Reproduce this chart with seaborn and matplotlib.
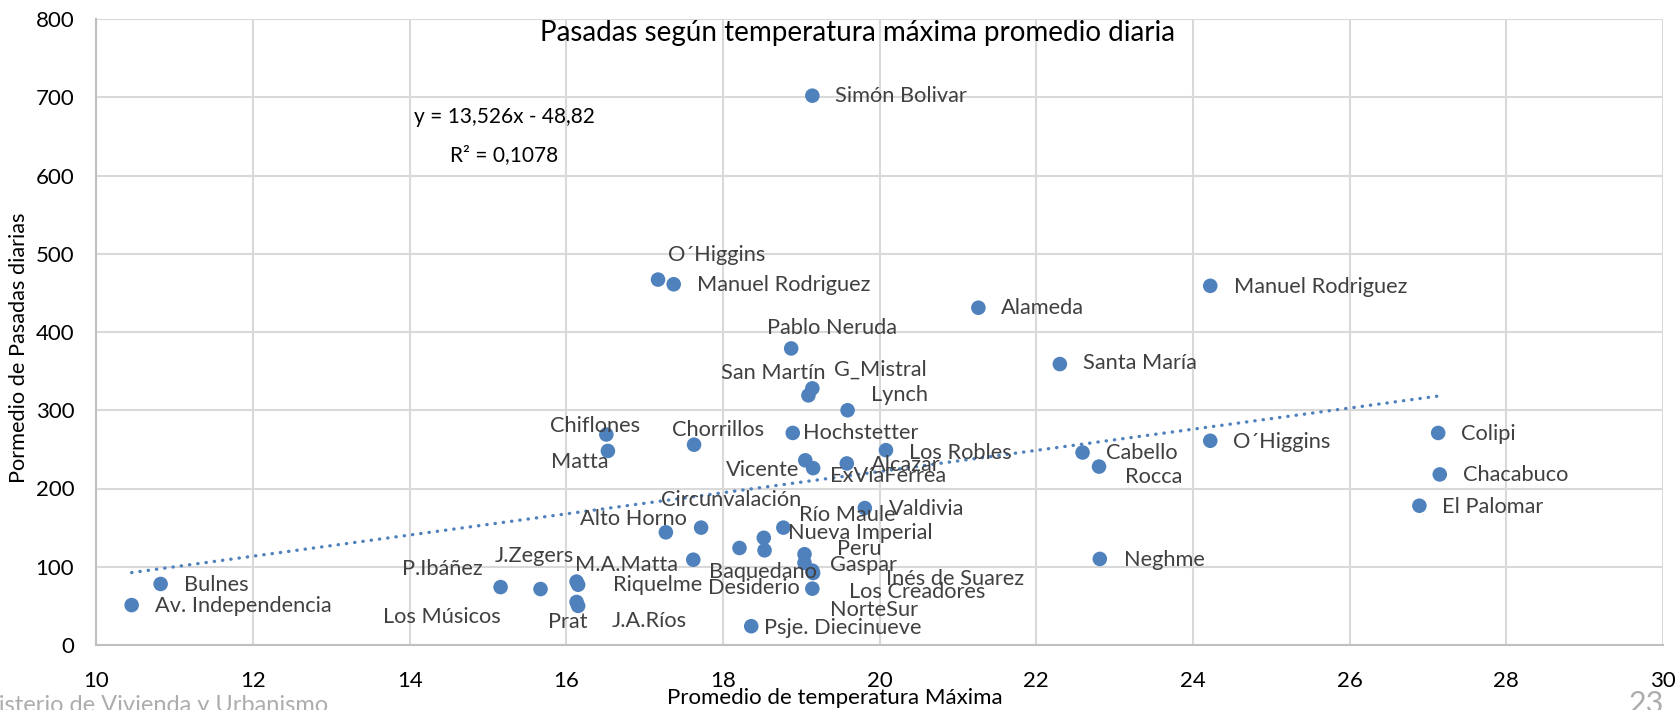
import matplotlib
matplotlib.use("Agg")
import matplotlib.pyplot as plt
import seaborn as sns
import pandas as pd
import numpy as np

# ---------------- data ----------------
names = [
    "Simón Bolivar", "O´Higgins", "Manuel Rodriguez", "Alameda", "Manuel Rodriguez",
    "Pablo Neruda", "Santa María", "G_Mistral", "San Martín", "Lynch",
    "Chiflones", "Matta", "Chorrillos", "Hochstetter", "Los Robles",
    "Alcazar", "Vicente", "ExVíaFerrea", "Cabello", "Rocca",
    "O´Higgins", "Colipi", "Chacabuco", "El Palomar", "Valdivia",
    "Circunvalación", "Alto Horno", "Río Maule", "Nueva Imperial", "Baquedano",
    "Desiderio", "Peru", "Gaspar", "Inés de Suarez", "Los Creadores",
    "NorteSur", "Psje. Diecinueve", "Neghme", "M.A.Matta", "P.Ibáñez",
    "Los Músicos", "J.Zegers", "Riquelme", "Prat", "J.A.Ríos",
    "Bulnes", "Av. Independencia",
]
temp_max = [
    19.14, 17.17, 17.37, 21.26, 24.22,
    18.87, 22.30, 19.14, 19.09, 19.59,
    16.51, 16.53, 17.63, 18.89, 20.08,
    19.58, 19.05, 19.15, 22.59, 22.80,
    24.22, 27.13, 27.15, 26.89, 19.81,
    17.72, 17.27, 18.77, 18.52, 18.21,
    18.53, 19.04, 19.04, 19.14, 19.15,
    19.14, 18.36, 22.81, 17.62, 15.16,
    15.67, 16.13, 16.15, 16.13, 16.15,
    10.82, 10.45,
]
pasadas = [
    702, 467, 461, 431, 459,
    379, 359, 328, 319, 300,
    269, 248, 256, 271, 249,
    232, 236, 226, 246, 228,
    261, 271, 218, 178, 175,
    150, 144, 150, 137, 124,
    121, 116, 105, 95, 92,
    72, 24, 110, 109, 74,
    71.5, 81, 77, 55, 50,
    78, 51,
]
x_ticks = [10, 12, 14, 16, 18, 20, 22, 24, 26, 28, 30]
y_ticks = [0, 100, 200, 300, 400, 500, 600, 700, 800]
slope, intercept, r2 = 13.526, -48.82, 0.1078

title = "Pasadas según temperatura máxima promedio diaria"
x_label = "Promedio de temperatura Máxima"
y_label = "Pormedio de Pasadas diarias"
footer = "Ministerio de Vivienda y Urbanismo"
page_no = "23"

# label placement (pixel offsets from each point: right, down)
label_offsets = [
    (23, 0), (9.6, -24.7), (23.7, 1), (23, 0), (24, 1),
    (-24, -20), (23, -1), (21.7, -18.7), (-87.7, -22.3), (23.3, -15),
    (-56.6, -9), (-57, 11), (-22.3, -15), (10.7, 0), (23.3, 2.7),
    (24.3, 1.7), (-79.7, 10), (17.3, 8.3), (23.5, 0.6), (25.8, 10.7),
    (23, 1), (23, 1), (23, 1), (23, 1), (24, 1),
    (-40, -27.7), (-86, -13.7), (16, -12.7), (24, -5), (-30, 24),
    (-56.7, 37.7), (32, -5), (25, 2), (74, 8), (36, 19),
    (18, 21), (13, 2), (24.4, 1), (-118.3, 5.7), (-98.3, -18),
    (-157.6, 27.7), (-82, -25.3), (35.3, 0), (-28.7, 20.3), (33.4, 15.3),
    (23.4, 0.7), (23.3, 0.7),
]

df = pd.DataFrame({"name": names, "temp": temp_max, "pasadas": pasadas})

# ---------------- style ----------------
sns.set_theme(style="white")
plt.rcParams["font.family"] = ["Lato", "DejaVu Sans"]

BLUE = "#4F81BD"
GRID = "#D9D9D9"
LABEL = "#404040"
FOOT = "#ADADAD"

W, H = 1678, 710
AX_L, AX_R, AX_T, AX_B = 96.4, 1663, 19, 645

fig = plt.figure(figsize=(W / 100, H / 100), dpi=100)
ax = fig.add_axes([AX_L / W, (H - AX_B) / H, (AX_R - AX_L) / W, (AX_B - AX_T) / H])


def axx(px):
    return (px - AX_L) / (AX_R - AX_L)


def axy(py):
    return (AX_B - py) / (AX_B - AX_T)


sns.scatterplot(data=df, x="temp", y="pasadas", color=BLUE, s=110,
                edgecolor="none", linewidth=0, ax=ax, zorder=3, legend=False)

# trendline from the chart's regression equation
xs = np.array([min(temp_max), max(temp_max)])
ax.plot(xs, slope * xs + intercept, color=BLUE, lw=2.4,
        linestyle=(0, (0.1, 2.4)), dash_capstyle="round", zorder=2)

for n, xv, yv, (dx, dy) in zip(names, temp_max, pasadas, label_offsets):
    ax.annotate(n, (xv, yv), xytext=(dx, -dy), textcoords="offset pixels",
                ha="left", va="center", fontsize=15.7, color=LABEL, zorder=4)

ax.set_xlim(10, 30)
ax.set_ylim(0, 800)
ax.set_xticks(x_ticks)
ax.set_yticks(y_ticks)
ax.grid(True, color=GRID, lw=1.5, zorder=0)
ax.set_axisbelow(True)
for side in ["top", "right"]:
    ax.spines[side].set_visible(False)
for side in ["left", "bottom"]:
    ax.spines[side].set_color("#BFBFBF")
    ax.spines[side].set_linewidth(1.5)
ax.tick_params(axis="x", length=0, labelsize=16, colors="black", pad=19)
ax.tick_params(axis="y", length=0, labelsize=16, colors="black", pad=16)

ax.set_xlabel(x_label, fontsize=16, color="black")
ax.xaxis.set_label_coords(axx(834.7), axy(688))
ax.set_ylabel(y_label, fontsize=15.7, color="black")
ax.yaxis.set_label_coords(axx(29), axy(347.5))

ax.text(axx(858), axy(20), title, transform=ax.transAxes, ha="center", va="top",
        fontsize=20, color="black")

eq = f"y = {slope:.3f}x - {abs(intercept):.2f}".replace(".", ",")
r2_txt = f"R² = {r2:.4f}".replace(".", ",")
ax.text(axx(504), axy(117), eq, transform=ax.transAxes,
        ha="center", va="center", fontsize=15, color="black")
ax.text(axx(504), axy(155), r2_txt, transform=ax.transAxes,
        ha="center", va="center", fontsize=15, color="black")

# slide footer fragments (partly outside the picture, as in the slide capture)
fig.text(328 / W, (H - 695) / H, footer, ha="right", va="top",
         fontsize=17, color=FOOT)
fig.text(1664 / W, (H - 690) / H, page_no, ha="right", va="top",
         fontsize=22, color=FOOT)

fig.savefig("out.png", dpi=100)
